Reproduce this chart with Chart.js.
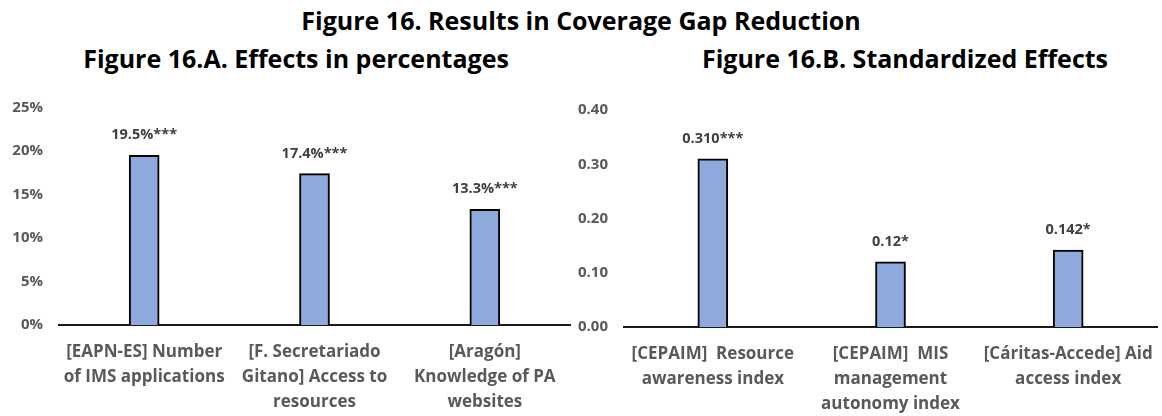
<!DOCTYPE html>
<html>
<head>
<meta charset="utf-8">
<script src="https://cdn.jsdelivr.net/npm/chart.js@4"></script>
<style>
  body { margin: 0; background: #fff; width: 1162px; height: 416px; overflow: hidden; position: relative; font-family: "Open Sans", "Noto Sans", sans-serif; }
  .title { position: absolute; font-weight: bold; color: #000; white-space: nowrap; transform: translateX(-50%); font-size: 25px; line-height: 1; }
  .wrap { position: absolute; top: 80px; height: 336px; }
</style>
</head>
<body>
<div class="title" style="left:581px; top:8px;">Figure 16. Results in Coverage Gap Reduction</div>
<div class="title" style="left:296px; top:46px;">Figure 16.A. Effects in percentages</div>
<div class="title" style="left:905px; top:46px;">Figure 16.B. Standardized Effects</div>
<div class="wrap" style="left:0; width:580px;"><canvas id="chartA"></canvas></div>
<div class="wrap" style="left:560px; width:602px;"><canvas id="chartB"></canvas></div>
<script>
// Figure 16.A - effects in percentages
const catsA = [
  ['[EAPN-ES] Number', 'of IMS applications'],
  ['[F. Secretariado', 'Gitano] Access to', 'resources'],
  ['[Aragón]', 'Knowledge of PA', 'websites']
];
const valuesA = [19.5, 17.4, 13.3];
const labelsA = ['19.5%***', '17.4%***', '13.3%***'];

// Figure 16.B - standardized effects
const catsB = [
  ['[CEPAIM]  Resource', 'awareness index'],
  ['[CEPAIM]  MIS', 'management', 'autonomy index'],
  ['[Cáritas-Accede] Aid', 'access index']
];
const valuesB = [0.310, 0.12, 0.142];
const labelsB = ['0.310***', '0.12*', '0.142*'];

const FONT = '"Open Sans", "Noto Sans", sans-serif';

// draws the significance labels above each bar
const barLabels = {
  id: 'barLabels',
  afterDatasetsDraw(chart, args, opts) {
    const ctx = chart.ctx;
    const meta = chart.getDatasetMeta(0);
    ctx.save();
    ctx.font = 'bold 14.5px ' + FONT;
    ctx.fillStyle = '#404040';
    ctx.textAlign = 'center';
    ctx.textBaseline = 'middle';
    meta.data.forEach((bar, i) => {
      ctx.fillText(opts.texts[i], bar.x, bar.y - 20);
    });
    ctx.restore();
  }
};

function makeChart(id, cats, values, texts, yMax, yStep, fmt, pad, yWidth, xHeight) {
  return new Chart(document.getElementById(id), {
    type: 'bar',
    data: {
      labels: cats,
      datasets: [{
        data: values,
        backgroundColor: '#8EA9DB',
        borderColor: '#000000',
        borderWidth: 2,
        borderSkipped: 'bottom',
        barThickness: 30
      }]
    },
    options: {
      responsive: true,
      maintainAspectRatio: false,
      animation: false,
      layout: { padding: pad },
      scales: {
        x: {
          grid: { display: false, drawTicks: true, tickLength: 15 },
          border: { display: true, color: '#1a1a1a', width: 2 },
          ticks: {
            color: '#595959',
            font: { family: FONT, size: 17, weight: 'bold', lineHeight: 1.47 },
            padding: 0,
            maxRotation: 0,
            autoSkip: false
          },
          afterFit(scale) { scale.height = xHeight; }
        },
        y: {
          min: 0,
          max: yMax,
          grid: { display: false, drawTicks: true, tickLength: 14 },
          border: { display: false },
          ticks: {
            stepSize: yStep,
            color: '#595959',
            font: { family: FONT, size: 15, weight: 'bold' },
            padding: 2,
            callback: fmt
          },
          afterFit(scale) { scale.width = yWidth; }
        }
      },
      plugins: {
        legend: { display: false },
        tooltip: { enabled: false },
        barLabels: { texts: texts }
      }
    },
    plugins: [barLabels]
  });
}

makeChart('chartA', catsA, valuesA, labelsA, 25, 5, v => v + '%',
  { top: 27.5, right: 10, bottom: 0, left: 0 }, 59, 91);
makeChart('chartB', catsB, valuesB, labelsB, 0.4, 0.1, v => v.toFixed(2),
  { top: 30, right: 5, bottom: 0, left: 0 }, 64, 89);
</script>
</body>
</html>
